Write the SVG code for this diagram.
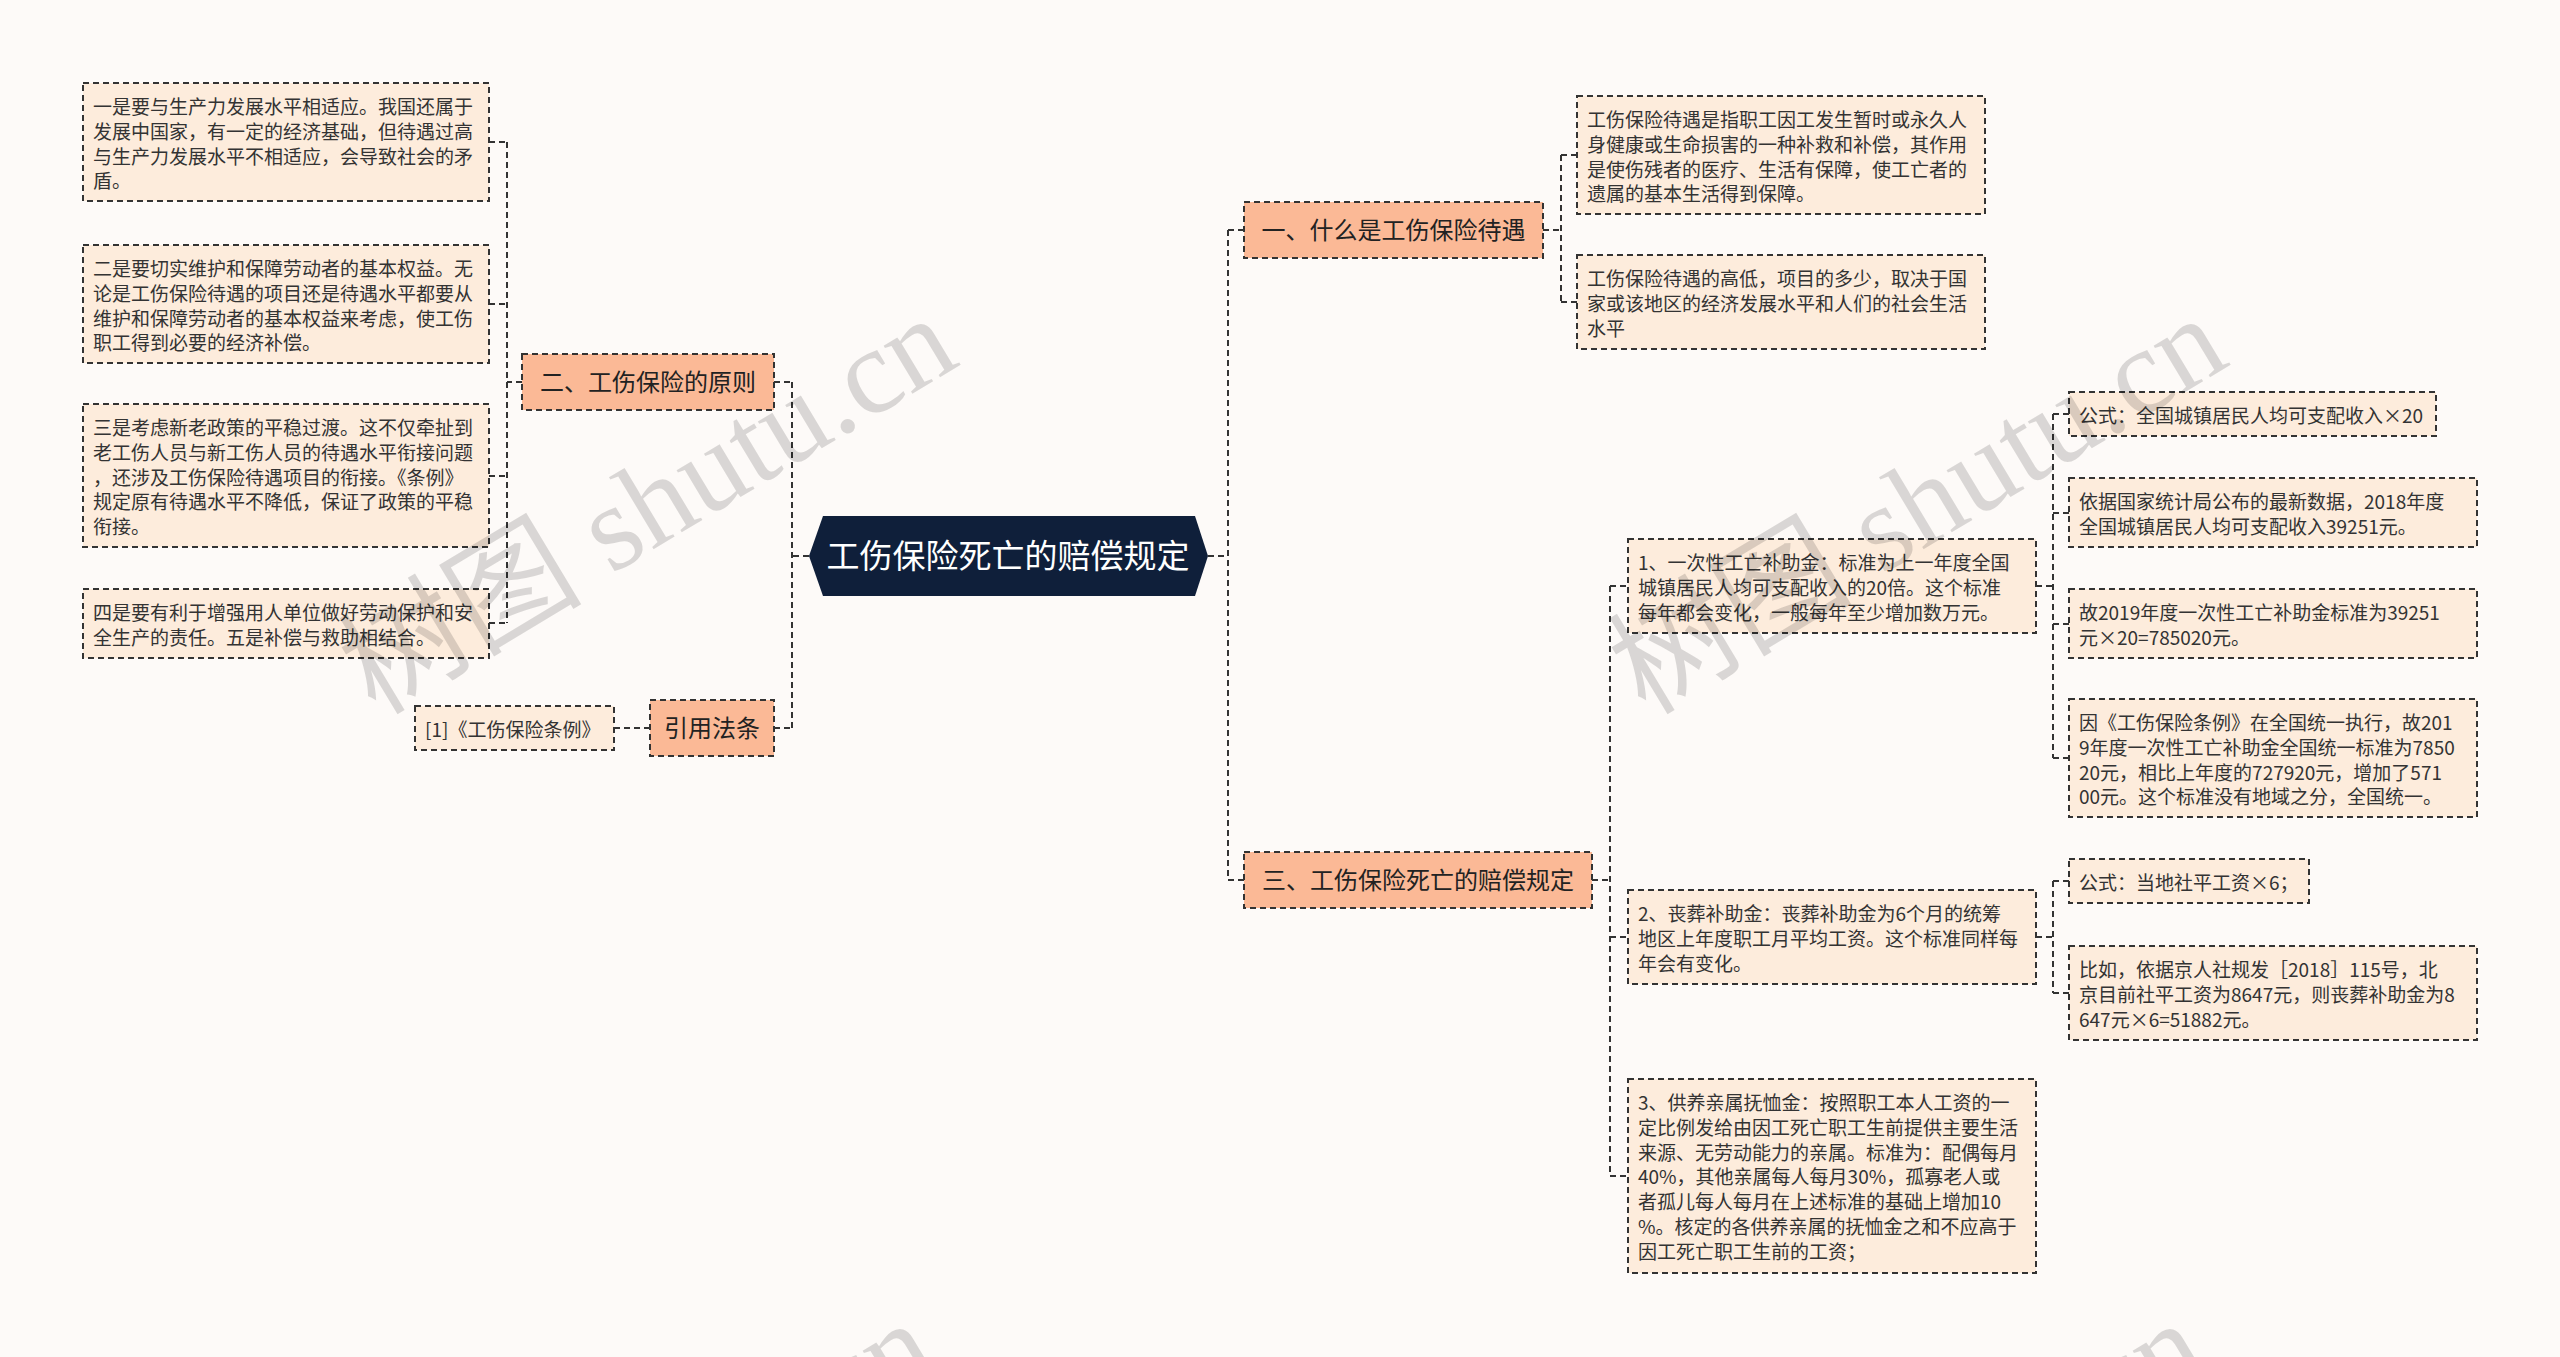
<svg xmlns="http://www.w3.org/2000/svg" width="2560" height="1357" viewBox="0 0 2560 1357">
<style>
.bg{fill:#fdfaf8}
text{font-family:"Noto Sans CJK SC","Noto Sans",sans-serif}
.leaf rect{fill:#fdecdc;stroke:#333;stroke-width:2;stroke-dasharray:6 4}
.leaf text{font-size:19px;fill:#333}
.main rect{fill:#fbb996;stroke:#333;stroke-width:2;stroke-dasharray:6 4}
.main text{font-size:24px;fill:#222;text-anchor:middle}
.root polygon{fill:#0f1f3a}
.root text{font-size:33px;fill:#fff;text-anchor:middle}
#connectors path{fill:none;stroke:#333;stroke-width:2;stroke-dasharray:6 4}
.wm{font-family:"Liberation Serif","Noto Sans CJK SC",serif;font-size:122px;fill:#000;fill-opacity:0.14;text-anchor:middle}
</style>
<rect class="bg" x="0" y="0" width="2560" height="1357"/>

<g id="connectors">
  <path d="M809,556 H792 M792,382 V728 M774,382 H792 M774,728 H792"/>
  <path d="M522,382 H507 M507,142 V623 M489,142 H507 M489,304 H507 M489,476 H507 M489,623 H507"/>
  <path d="M650,728 H614"/>
  <path d="M1208,556 H1228 M1228,230 V880 M1228,230 H1244 M1228,880 H1244"/>
  <path d="M1543,230 H1561 M1561,155 V302 M1561,155 H1577 M1561,302 H1577"/>
  <path d="M1592,880 H1610 M1610,586 V1176 M1610,586 H1628 M1610,937 H1628 M1610,1176 H1628"/>
  <path d="M2036,586 H2053 M2053,414 V758 M2053,414 H2069 M2053,513 H2069 M2053,624 H2069 M2053,758 H2069"/>
  <path d="M2036,937 H2053 M2053,881 V993 M2053,881 H2069 M2053,993 H2069"/>
</g>

<g id="root" class="root">
  <polygon points="823,516 1195,516 1208,556 1195,596 823,596 809,556"/>
  <text x="1008" y="568">工伤保险死亡的赔偿规定</text>
</g>

<g id="n2" class="main">
  <rect x="522" y="354" width="252" height="56"/>
  <text x="648" y="391">二、工伤保险的原则</text>
</g>
<g id="n4" class="main">
  <rect x="650" y="700" width="124" height="56"/>
  <text x="712" y="737">引用法条</text>
</g>
<g id="n1" class="main">
  <rect x="1244" y="202" width="299" height="56"/>
  <text x="1393.5" y="239">一、什么是工伤保险待遇</text>
</g>
<g id="n3" class="main">
  <rect x="1244" y="852" width="348" height="56"/>
  <text x="1418" y="889">三、工伤保险死亡的赔偿规定</text>
</g>

<g id="l1" class="leaf">
  <rect x="83" y="83" width="406" height="118"/>
  <text><tspan x="93" y="114">一是要与生产力发展水平相适应。我国还属于</tspan><tspan x="93" y="138.75">发展中国家，有一定的经济基础，但待遇过高</tspan><tspan x="93" y="163.5">与生产力发展水平不相适应，会导致社会的矛</tspan><tspan x="93" y="188.25">盾。</tspan></text>
</g>
<g id="l2" class="leaf">
  <rect x="83" y="245" width="406" height="118"/>
  <text><tspan x="93" y="276">二是要切实维护和保障劳动者的基本权益。无</tspan><tspan x="93" y="300.75">论是工伤保险待遇的项目还是待遇水平都要从</tspan><tspan x="93" y="325.5">维护和保障劳动者的基本权益来考虑，使工伤</tspan><tspan x="93" y="350.25">职工得到必要的经济补偿。</tspan></text>
</g>
<g id="l3" class="leaf">
  <rect x="83" y="404" width="406" height="143"/>
  <text><tspan x="93" y="435">三是考虑新老政策的平稳过渡。这不仅牵扯到</tspan><tspan x="93" y="459.75">老工伤人员与新工伤人员的待遇水平衔接问题</tspan><tspan x="93" y="484.5">，还涉及工伤保险待遇项目的衔接。《条例》</tspan><tspan x="93" y="509.25">规定原有待遇水平不降低，保证了政策的平稳</tspan><tspan x="93" y="534">衔接。</tspan></text>
</g>
<g id="l4" class="leaf">
  <rect x="83" y="589" width="406" height="69"/>
  <text><tspan x="93" y="620">四是要有利于增强用人单位做好劳动保护和安</tspan><tspan x="93" y="644.75">全生产的责任。五是补偿与救助相结合。</tspan></text>
</g>
<g id="ref" class="leaf">
  <rect x="415" y="706" width="199" height="44"/>
  <text x="425" y="737">[1]《工伤保险条例》</text>
</g>

<g id="r1" class="leaf">
  <rect x="1577" y="96" width="408" height="118"/>
  <text><tspan x="1587" y="127">工伤保险待遇是指职工因工发生暂时或永久人</tspan><tspan x="1587" y="151.75">身健康或生命损害的一种补救和补偿，其作用</tspan><tspan x="1587" y="176.5">是使伤残者的医疗、生活有保障，使工亡者的</tspan><tspan x="1587" y="201.25">遗属的基本生活得到保障。</tspan></text>
</g>
<g id="r2" class="leaf">
  <rect x="1577" y="255" width="408" height="94"/>
  <text><tspan x="1587" y="286">工伤保险待遇的高低，项目的多少，取决于国</tspan><tspan x="1587" y="310.75">家或该地区的经济发展水平和人们的社会生活</tspan><tspan x="1587" y="335.5">水平</tspan></text>
</g>

<g id="c1" class="leaf">
  <rect x="1628" y="539" width="408" height="94"/>
  <text><tspan x="1638" y="570">1、一次性工亡补助金：标准为上一年度全国</tspan><tspan x="1638" y="594.75">城镇居民人均可支配收入的20倍。这个标准</tspan><tspan x="1638" y="619.5">每年都会变化，一般每年至少增加数万元。</tspan></text>
</g>
<g id="c2" class="leaf">
  <rect x="1628" y="890" width="408" height="94"/>
  <text><tspan x="1638" y="921">2、丧葬补助金：丧葬补助金为6个月的统筹</tspan><tspan x="1638" y="945.75">地区上年度职工月平均工资。这个标准同样每</tspan><tspan x="1638" y="970.5">年会有变化。</tspan></text>
</g>
<g id="c3" class="leaf">
  <rect x="1628" y="1079" width="408" height="194"/>
  <text><tspan x="1638" y="1110">3、供养亲属抚恤金：按照职工本人工资的一</tspan><tspan x="1638" y="1134.75">定比例发给由因工死亡职工生前提供主要生活</tspan><tspan x="1638" y="1159.5">来源、无劳动能力的亲属。标准为：配偶每月</tspan><tspan x="1638" y="1184.25">40%，其他亲属每人每月30%，孤寡老人或</tspan><tspan x="1638" y="1209">者孤儿每人每月在上述标准的基础上增加10</tspan><tspan x="1638" y="1233.75">%。核定的各供养亲属的抚恤金之和不应高于</tspan><tspan x="1638" y="1258.5">因工死亡职工生前的工资；</tspan></text>
</g>

<g id="d1" class="leaf">
  <rect x="2069" y="392" width="367" height="44"/>
  <text x="2079" y="423">公式：全国城镇居民人均可支配收入×20</text>
</g>
<g id="d2" class="leaf">
  <rect x="2069" y="478" width="408" height="69"/>
  <text><tspan x="2079" y="509">依据国家统计局公布的最新数据，2018年度</tspan><tspan x="2079" y="533.75">全国城镇居民人均可支配收入39251元。</tspan></text>
</g>
<g id="d3" class="leaf">
  <rect x="2069" y="589" width="408" height="69"/>
  <text><tspan x="2079" y="620">故2019年度一次性工亡补助金标准为39251</tspan><tspan x="2079" y="644.75">元×20=785020元。</tspan></text>
</g>
<g id="d4" class="leaf">
  <rect x="2069" y="699" width="408" height="118"/>
  <text><tspan x="2079" y="730">因《工伤保险条例》在全国统一执行，故201</tspan><tspan x="2079" y="754.75">9年度一次性工亡补助金全国统一标准为7850</tspan><tspan x="2079" y="779.5">20元，相比上年度的727920元，增加了571</tspan><tspan x="2079" y="804.25">00元。这个标准没有地域之分，全国统一。</tspan></text>
</g>
<g id="e1" class="leaf">
  <rect x="2069" y="859" width="240" height="44"/>
  <text x="2079" y="890">公式：当地社平工资×6；</text>
</g>
<g id="e2" class="leaf">
  <rect x="2069" y="946" width="408" height="94"/>
  <text><tspan x="2079" y="977">比如，依据京人社规发［2018］115号，北</tspan><tspan x="2079" y="1001.75">京目前社平工资为8647元，则丧葬补助金为8</tspan><tspan x="2079" y="1026.5">647元×6=51882元。</tspan></text>
</g>

<g id="watermarks">
  <text class="wm" transform="translate(669,540) rotate(-31)">树图 shutu.cn</text>
  <text class="wm" transform="translate(1939,540) rotate(-31)">树图 shutu.cn</text>
  <text class="wm" transform="translate(648,1545) rotate(-31)">树图 shutu.cn</text>
  <text class="wm" transform="translate(1918,1545) rotate(-31)">树图 shutu.cn</text>
</g>
</svg>
